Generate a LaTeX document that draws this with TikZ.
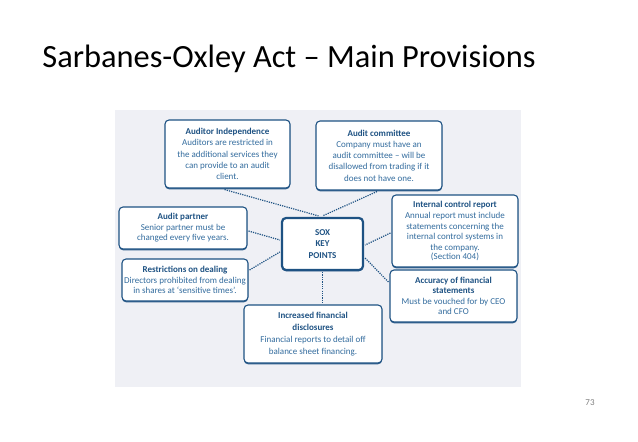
\documentclass[tikz,border=0pt]{standalone}
\usepackage{fontspec}
\setmainfont{Carlito}
\usetikzlibrary{calc,shadows}
\definecolor{bblue}{HTML}{1E5283}
\definecolor{tblue}{HTML}{336C9E}
\definecolor{panel}{HTML}{EFF0F5}
\begin{document}
\begin{tikzpicture}[x=1pt,y=-1pt,
  box/.style={draw=bblue, line width=1.1pt, rounded corners=4pt, fill=white,
    drop shadow={shadow xshift=0pt, shadow yshift=-1.3pt, fill=bblue, opacity=0.9},
    align=center, font=\fontsize{9}{11.2}\selectfont, text=tblue, inner sep=0pt},
  link/.style={draw=bblue, line width=1.2pt, dash pattern=on 1.2pt off 1.1pt}]
\useasboundingbox (0,0) rectangle (638,442);
\fill[white] (0,0) rectangle (638,442);
\fill[panel] (115,110) rectangle (521,387);
\node[font=\fontsize{32.4}{38}\selectfont, anchor=base] (title) at (289,67) {Sarbanes-Oxley Act -- Main Provisions};
\node[font=\fontsize{9}{10}\selectfont, text=gray] (page) at (590,403) {73};

\node[box, minimum width=125, minimum height=68] (ai) at (227.5,154)
  {{\bfseries\color{bblue}Auditor Independence}\\Auditors are restricted in\\the additional services they\\can provide to an audit\\client.};
\node[box, minimum width=126, minimum height=69] (ac) at (379,155.5)
  {{\bfseries\color{bblue}Audit committee}\\Company must have an\\audit committee -- will be\\disallowed from trading if it\\does not have one.};
\node[box, minimum width=126, minimum height=72, font=\fontsize{9}{10.8}\selectfont] (icr) at (455,231)
  {{\bfseries\color{bblue}Internal control report}\\Annual report must include\\statements concerning the\\internal control systems in\\the company.\\[-2pt](Section 404)};
\node[box, minimum width=128, minimum height=42, font=\fontsize{9}{10.6}\selectfont] (ap) at (183,228)
  {{\bfseries\color{bblue}Audit partner}\\Senior partner must be\\changed every five years.};
\node[box, line width=2.2pt, minimum width=81, minimum height=52, font=\fontsize{9}{11.5}\selectfont\bfseries, text=bblue] (sox) at (322.5,244)
  {SOX\\KEY\\POINTS};
\node[box, minimum width=126, minimum height=42, font=\fontsize{9}{10.3}\selectfont] (rd) at (185,280)
  {{\bfseries\color{bblue}Restrictions on dealing}\\Directors prohibited from dealing\\in shares at `sensitive times'.};
\node[box, minimum width=127, minimum height=52, font=\fontsize{9}{10.3}\selectfont] (acc) at (453.5,296)
  {{\bfseries\color{bblue}Accuracy of financial}\\{\bfseries\color{bblue}statements}\\Must be vouched for by CEO\\and CFO};
\node[box, minimum width=138, minimum height=58, font=\fontsize{9}{12}\selectfont] (ifd) at (313,334)
  {{\bfseries\color{bblue}Increased financial}\\{\bfseries\color{bblue}disclosures}\\Financial reports to detail off\\balance sheet financing.};

\draw[link] ($(ai.south)+(-3,1)$) -- ($(sox.north)+(-4,-1)$);
\draw[link] ($(ac.south)+(-2,1)$) -- ($(sox.north)+(0,-1)$);
\draw[link] ($(ap.east)+(1,3)$) -- ($(sox.west)+(-1,-4)$);
\draw[link] ($(rd.east)+(1,-10)$) -- ($(sox.west)+(-1,8)$);
\draw[link] ($(icr.west)+(-1,2)$) -- ($(sox.east)+(1,1)$);
\draw[link] ($(acc.west)+(-1,-14)$) -- ($(sox.east)+(1,14)$);
\draw[link] ($(sox.south)+(0,1)$) -- ($(sox.south |- ifd.north)+(0,-1)$);
\end{tikzpicture}
\end{document}
